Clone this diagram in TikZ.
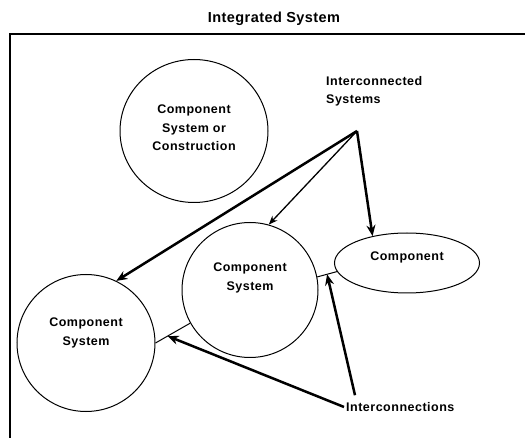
\documentclass[tikz,border=0pt]{standalone}
\usepackage{fontspec}
\newfontfamily\lblfont[LetterSpace=4]{Liberation Sans}
\newfontfamily\ttlfont[LetterSpace=3]{Liberation Sans}
\usetikzlibrary{arrows.meta,shapes.geometric}
\begin{document}
\begin{tikzpicture}[x=1pt,y=-1pt,
    blob/.style={draw, ellipse, line width=1pt, inner sep=0pt},
    lbl/.style={font=\lblfont\bfseries\fontsize{12.5}{18.5}\selectfont, align=center, inner sep=1pt},
    heavy/.style={line width=2.5pt, -{Stealth[length=11pt,width=9pt]}},
    light/.style={line width=1.3pt, -{Stealth[length=9pt,width=7pt]}},
    link/.style={line width=1pt}]
    \useasboundingbox (0,0) rectangle (525,438);
    \node [font=\ttlfont\bfseries\fontsize{14.5}{16}\selectfont] (title) at (274,19) {Integrated System};
    \draw [line width=1.5pt] (525,34)--(10,34)--(10,438);
    % the systems
    \node [blob, minimum width=148pt, minimum height=143pt] (sysA) at (194,131) {};
    \node [blob, minimum width=136pt, minimum height=135pt] (sysB) at (250,290) {};
    \node [blob, minimum width=138pt, minimum height=137pt] (sysC) at (86,343) {};
    \node [blob, minimum width=145pt, minimum height=60pt] (comp) at (407,263) {};
    \node [lbl] at ([yshift=3pt]sysA.center) {Component\\System or\\Construction};
    \node [lbl] at ([yshift=12pt]sysB.center) {Component\\System};
    \node [lbl] at ([yshift=10pt]sysC.center) {Component\\System};
    \node [lbl] at ([yshift=6pt]comp.center) {Component};
    % interconnections
    \draw [link] (sysC.0)--(sysB.209) coordinate[pos=0.35] (linkCB);
    \draw [link] (sysB.11)--(comp.187) coordinate[pos=0.5] (linkBC);
    \node [lbl, align=left, anchor=north west] (isys) at (325,75) {Interconnected\\Systems};
    \coordinate (hub) at (357,131);
    \draw [heavy] (hub)--(sysC.64);
    \draw [light] (hub)--(sysB.74);
    \draw [heavy] (hub)--(comp.142);
    \node [lbl, anchor=west] (icon) at (345,407) {Interconnections};
    \draw [heavy] ([xshift=-1pt]icon.west)--(linkCB);
    \draw [heavy] ([xshift=10pt,yshift=6pt]icon.north west)--(linkBC);
\end{tikzpicture}
\end{document}
